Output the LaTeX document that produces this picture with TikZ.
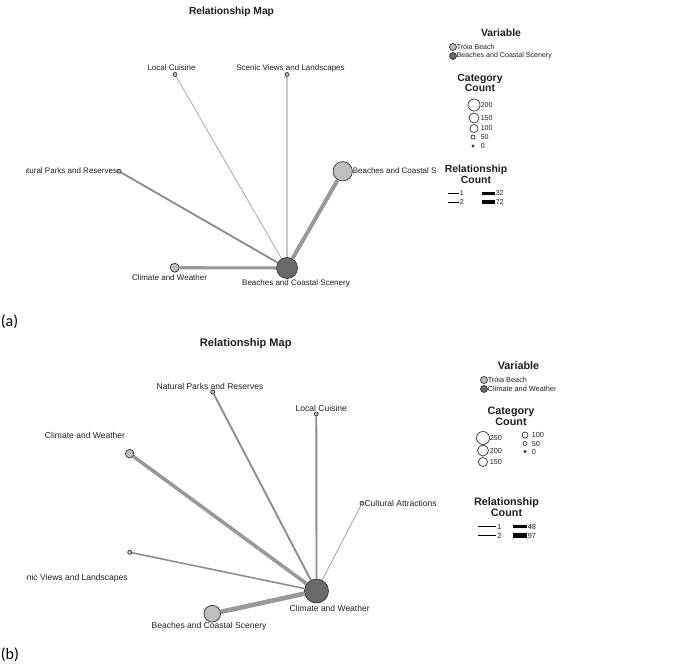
\documentclass[tikz,border=0pt]{standalone}
\usepackage{fontspec}
\setmainfont{Liberation Sans}
\newfontfamily\capfont{Carlito}
\definecolor{txt}{HTML}{1E1E1E}
\definecolor{nlight}{HTML}{BEBEBE}
\definecolor{ndark}{HTML}{6A6A6A}
\definecolor{outl}{HTML}{3A3A3A}
\definecolor{eg}{HTML}{999999}
\definecolor{em}{HTML}{8C8C8C}
\definecolor{el}{HTML}{C8C8C8}
\definecolor{et}{HTML}{A0A0A0}
\begin{document}
\begin{tikzpicture}[x=0.75pt,y=-0.75pt,
  lbl/.style={font=\fontsize{6}{7}\selectfont, inner sep=0pt, text=txt},
  lblb/.style={font=\fontsize{6.4}{7.4}\selectfont, inner sep=0pt, text=txt},
  ttl/.style={font=\bfseries\fontsize{7.7}{9}\selectfont, inner sep=0pt, text=txt},
  ttlb/.style={font=\bfseries\fontsize{8.3}{9.5}\selectfont, inner sep=0pt, text=txt},
  lgh/.style={font=\bfseries\fontsize{7.8}{8.1}\selectfont, align=center, inner sep=0pt, text=txt},
  lghb/.style={font=\bfseries\fontsize{8.1}{8.3}\selectfont, align=center, inner sep=0pt, text=txt},
  lgt/.style={font=\fontsize{5.3}{6}\selectfont, inner sep=0pt, anchor=west, text=txt},
  lgtb/.style={font=\fontsize{5.5}{6.2}\selectfont, inner sep=0pt, anchor=west, text=txt},
  cnode/.style={circle, draw=outl, line width=0.55pt, inner sep=0pt, minimum size=#1},
  lt/.style={cnode=#1, fill=nlight},
  dk/.style={cnode=#1, fill=ndark},
  wt/.style={cnode=#1, fill=white},
  tag/.style={font=\capfont\fontsize{12}{14}\selectfont, inner sep=0pt, anchor=west},
  lgl/.style={line width=#1, draw=black},
]
\path[use as bounding box] (0,0) rectangle (690,664);

% ================= Panel (a) =================
\node[ttl] (titleA) at (231.5,12) {Relationship Map};
\node[dk=15.75pt] (cA) at (287,268) {};
\node[lt=3pt] (lcA) at (175,74.5) {};
\node[lt=3pt] (svA) at (287,74.5) {};
\node[lt=3pt] (npA) at (119,171.3) {};
\node[lt=14.5pt] (bcA) at (342.7,171.3) {};
\node[lt=6.75pt] (cwA) at (174.7,267.7) {};

\draw[et, line width=0.55pt] (cA) -- (lcA);
\draw[el, line width=1.5pt] (cA) -- (svA);
\draw[em, line width=1.4pt] (cA) -- (npA);
\draw[eg, line width=3pt] (cA) -- (bcA);
\draw[eg, line width=2.3pt] (cA) -- (cwA);

\node[lbl] (lcAl) at (171.5,68) {Local Cuisine};
\node[lbl] (svAl) at (290.5,68) {Scenic Views and Landscapes};
\begin{scope}
  \clip (26,160) rectangle (130,182);
  \node[lbl, anchor=east] (npAl) at (117.3,171) {Natural Parks and Reserves};
\end{scope}
\node[lbl, anchor=west] (bcAl) at (352.5,171) {Beaches and Coastal S};
\node[lbl] (cwAl) at (169.5,277.7) {Climate and Weather};
\node[lbl] (cAl) at (296,283) {Beaches and Coastal Scenery};

% legend (a)
\node[lgh] (varA) at (501,32.5) {Variable};
\node[lt=5.25pt] (v1A) at (453,47) {};
\node[lgt] (v1At) at (456.5,47) {Tróia Beach};
\node[dk=5.25pt] (v2A) at (453,56) {};
\node[lgt] (v2At) at (456.5,56) {Beaches and Coastal Scenery};
\node[lgh] (ccA) at (480,83) {Category\\Count};
\node[wt=9pt] (s200A) at (474,105) {};
\node[lgt] at (480.5,105) {200};
\node[wt=7.5pt] (s150A) at (474,118) {};
\node[lgt] at (480.5,118) {150};
\node[wt=6pt] (s100A) at (474,128.5) {};
\node[lgt] at (480.5,128.5) {100};
\node[wt=3pt] (s50A) at (473,137) {};
\node[lgt] at (480.5,137) {50};
\node[cnode=1.5pt, fill=outl] (s0A) at (473,146) {};
\node[lgt] at (480.5,146) {0};
\node[lgh] (rcA) at (476,174.5) {Relationship\\Count};
\coordinate (r1a) at (448,193.3); \coordinate (r1b) at (458.5,193.3);
\coordinate (r2a) at (448,202.3); \coordinate (r2b) at (458.5,202.3);
\coordinate (r3a) at (482,193.3); \coordinate (r3b) at (495,193.3);
\coordinate (r4a) at (482,202.3); \coordinate (r4b) at (495,202.3);
\draw[lgl=0.6pt] (r1a) -- (r1b);
\draw[lgl=1.0pt] (r2a) -- (r2b);
\draw[lgl=2.2pt] (r3a) -- (r3b);
\draw[lgl=2.9pt] (r4a) -- (r4b);
\node[lgt] at (459.5,193.3) {1};
\node[lgt] at (459.5,202.3) {2};
\node[lgt] at (495.5,193.3) {32};
\node[lgt] at (495.5,202.3) {72};

\node[tag] (tagA) at (0.5,322) {(a)};

% ================= Panel (b) =================
\node[ttlb] (titleB) at (245.8,344) {Relationship Map};
\node[dk=18pt] (cB) at (316.5,591) {};
\node[lt=3pt] (npB) at (212.7,392) {};
\node[lt=3pt] (lcB) at (316.3,414) {};
\node[lt=6.5pt] (cwB) at (129.7,453.7) {};
\node[lt=3pt] (caB) at (362,503.3) {};
\node[lt=3pt] (svB) at (129.7,552.3) {};
\node[lt=12.5pt] (bcB) at (212.3,613.7) {};

\draw[em, line width=1.4pt] (cB) -- (npB);
\draw[em, line width=1.4pt] (cB) -- (lcB);
\draw[eg, line width=2.7pt] (cB) -- (cwB);
\draw[et, line width=0.6pt] (cB) -- (caB);
\draw[em, line width=1.2pt] (cB) -- (svB);
\draw[eg, line width=3.5pt] (cB) -- (bcB);

\node[lblb] (npBl) at (210,386) {Natural Parks and Reserves};
\node[lblb] (lcBl) at (321.3,408.3) {Local Cuisine};
\node[lblb] (cwBl) at (85,435) {Climate and Weather};
\node[lblb, anchor=west] (caBl) at (364.3,503.3) {Cultural Attractions};
\begin{scope}
  \clip (26,568) rectangle (140,590);
  \node[lblb, anchor=east] (svBl) at (128,578.3) {Scenic Views and Landscapes};
\end{scope}
\node[lblb] (bcBl) at (209,626.7) {Beaches and Coastal Scenery};
\node[lblb] (cBl) at (329.7,608.3) {Climate and Weather};

% legend (b)
\node[lghb] (varB) at (518.5,366) {Variable};
\node[lt=5.25pt] (v1B) at (484,380) {};
\node[lgtb] (v1Bt) at (487.5,380) {Tróia Beach};
\node[dk=5.25pt] (v2B) at (484,389) {};
\node[lgtb] (v2Bt) at (487.5,389) {Climate and Weather};
\node[lghb] (ccB) at (511,416) {Category\\Count};
\node[wt=9.75pt] (s250B) at (483,438) {};
\node[lgtb] at (489.5,438) {250};
\node[wt=8.25pt] (s200B) at (483,450.5) {};
\node[lgtb] at (489.5,450.5) {200};
\node[wt=6.75pt] (s150B) at (483,462) {};
\node[lgtb] at (489.5,462) {150};
\node[wt=4.5pt] (s100B) at (525,435) {};
\node[lgtb] at (531.5,435) {100};
\node[wt=3pt] (s50B) at (525,443.5) {};
\node[lgtb] at (531.5,443.5) {50};
\node[cnode=1.5pt, fill=outl] (s0B) at (525,451.5) {};
\node[lgtb] at (531.5,451.5) {0};
\node[lghb] (rcB) at (506.5,507.5) {Relationship\\Count};
\coordinate (q1a) at (478,526.5); \coordinate (q1b) at (496,526.5);
\coordinate (q2a) at (478,535.5); \coordinate (q2b) at (496,535.5);
\coordinate (q3a) at (513,526.5); \coordinate (q3b) at (527,526.5);
\coordinate (q4a) at (513,535.5); \coordinate (q4b) at (527,535.5);
\draw[lgl=0.6pt] (q1a) -- (q1b);
\draw[lgl=1.0pt] (q2a) -- (q2b);
\draw[lgl=2.4pt] (q3a) -- (q3b);
\draw[lgl=3.1pt] (q4a) -- (q4b);
\node[lgtb] at (497,526.5) {1};
\node[lgtb] at (497,535.5) {2};
\node[lgtb] at (527.5,526.5) {48};
\node[lgtb] at (527.5,535.5) {97};

\node[tag] (tagB) at (0.5,655) {(b)};
\end{tikzpicture}
\end{document}
